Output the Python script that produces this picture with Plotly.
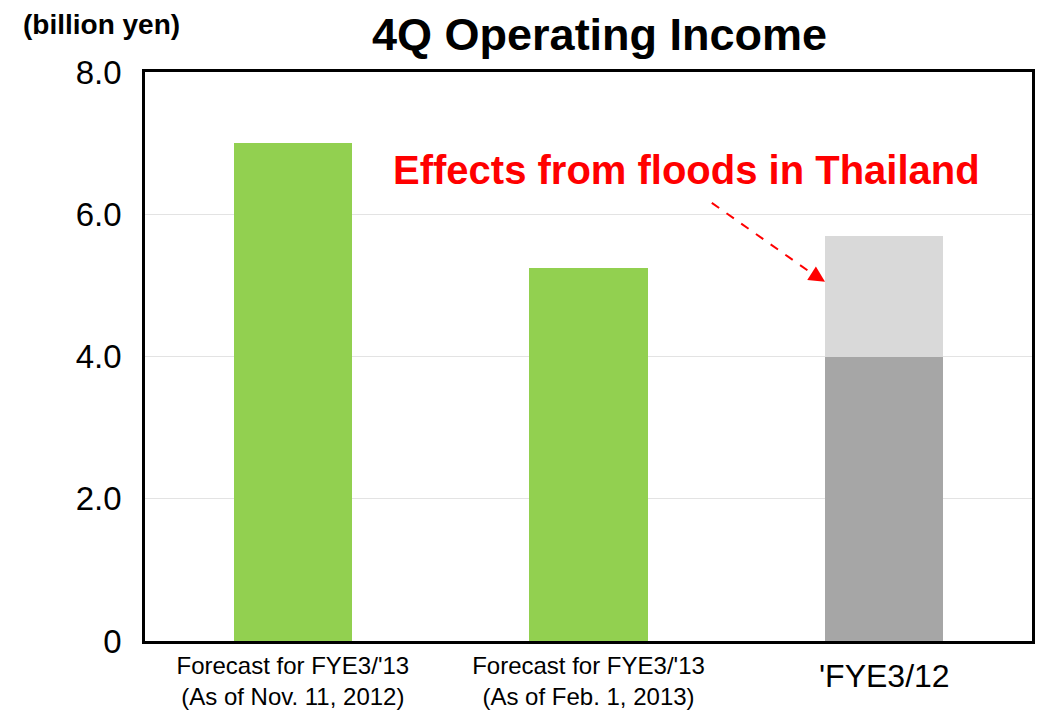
import plotly.graph_objects as go

categories = ["Forecast for FYE3/'13<br>(As of Nov. 11, 2012)",
              "Forecast for FYE3/'13<br>(As of Feb. 1, 2013)",
              "'FYE3/12"]
operating_income = [7.0, 5.25, 4.0]
flood_effects = [0, 0, 1.7]
y_tickvals = [0, 2, 4, 6, 8]
y_ticktext = ["0", "2.0", "4.0", "6.0", "8.0"]

x_pos = [0, 1, 2]
FONT = "Liberation Sans, Arial, sans-serif"

fig = go.Figure()
fig.add_trace(go.Bar(x=x_pos, y=operating_income,
                     marker=dict(color=["#92D050", "#92D050", "#A6A6A6"], line=dict(width=0)),
                     showlegend=False))
fig.add_trace(go.Bar(x=x_pos, y=flood_effects,
                     marker=dict(color="#D9D9D9", line=dict(width=0)),
                     showlegend=False))

# dashed arrow
fig.add_shape(type="line", x0=1.417, y0=6.16, x1=1.765, y1=5.14,
              line=dict(color="#FF0000", width=2, dash="dash"), xref="x", yref="y")
fig.add_annotation(x=1.8, y=5.05, ax=1.755, ay=5.17, xref="x", yref="y",
                   axref="x", ayref="y", text="", showarrow=True,
                   arrowhead=2, arrowsize=1.6, arrowwidth=2, arrowcolor="#FF0000")

fig.add_annotation(x=1.33, y=6.62, xref="x", yref="y", text="<b>Effects from floods in Thailand</b>",
                   showarrow=False, font=dict(family=FONT, size=40, color="#FF0000"),
                   xanchor="center", yanchor="middle")

fig.add_annotation(x=-0.14, y=1.083, xref="paper", yref="paper", text="<b>(billion yen)</b>",
                   showarrow=False, font=dict(family=FONT, size=28, color="black"),
                   xanchor="left", yanchor="middle")

# third category label (larger, single line) drawn as annotation from categories list
fig.add_annotation(x=x_pos[2], y=-0.0615, xref="x", yref="paper", text=categories[2],
                   showarrow=False, font=dict(family=FONT, size=32, color="black"),
                   xanchor="center", yanchor="middle")

fig.update_layout(
    width=1041, height=715,
    margin=dict(l=145, r=9, t=72, b=74, autoexpand=False),
    paper_bgcolor="white", plot_bgcolor="white",
    barmode="stack", bargap=0.6,
    title=dict(text="<b>4Q Operating Income</b>", x=0.576, xanchor="center",
               y=0.952, yanchor="middle", font=dict(family=FONT, size=45, color="black")),
    font=dict(family=FONT, color="black"),
    xaxis=dict(range=[-0.5, 2.5], tickvals=x_pos, ticktext=categories[:2] + [""],
               tickfont=dict(family=FONT, size=24, color="black"),
               showline=True, mirror=True, linecolor="black", linewidth=2.5,
               showgrid=False, ticks="", fixedrange=True, ticklabelstandoff=1,
               automargin=False),
    yaxis=dict(range=[0, 8], tickvals=y_tickvals, ticktext=y_ticktext,
               tickfont=dict(family=FONT, size=33, color="black"),
               showline=True, mirror=True, linecolor="black", linewidth=2.5,
               showgrid=True, gridcolor="#E3E3E3", gridwidth=1, ticks="",
               ticklabelstandoff=14, zeroline=False, automargin=False),
)

fig.write_html("out.html", config={"displayModeBar": False},
               post_script="document.body.style.margin='0';document.body.style.overflow='hidden';")
